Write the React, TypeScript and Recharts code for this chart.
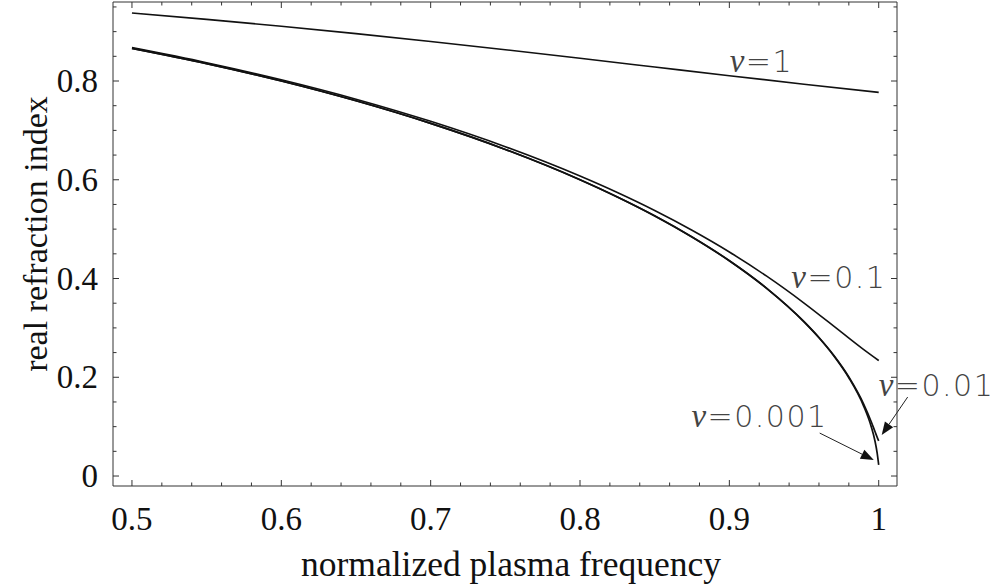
import { LineChart, Line, XAxis, YAxis, ReferenceLine, ReferenceDot } from "recharts";

// normalized plasma frequency samples
const freqWide = [0.5, 0.55, 0.6, 0.65, 0.7, 0.75, 0.8, 0.85, 0.9, 0.95, 1.0];
const freqMid = [0.5, 0.55, 0.6, 0.65, 0.7, 0.75, 0.8, 0.825, 0.85, 0.875, 0.9, 0.925, 0.95, 0.975, 0.99, 1.0];
const freqFine = [0.5, 0.55, 0.6, 0.65, 0.7, 0.75, 0.8, 0.825, 0.85, 0.875, 0.9, 0.925, 0.95, 0.96, 0.97, 0.98, 0.99, 0.995, 0.9975, 0.999, 1.0];

// real refraction index per collision frequency
const nu1 = [0.9378, 0.9249, 0.9109, 0.8959, 0.88, 0.8633, 0.846, 0.8284, 0.8108, 0.7935, 0.7769];
const nu01 = [0.8676, 0.8371, 0.8025, 0.7632, 0.7183, 0.6669, 0.6075, 0.5741, 0.5377, 0.4977, 0.4537, 0.4047, 0.3503, 0.2913, 0.256, 0.2339];
const nu001 = [0.866, 0.8352, 0.8, 0.7599, 0.7141, 0.6614, 0.6, 0.5651, 0.5269, 0.4841, 0.4361, 0.3802, 0.3127, 0.2806, 0.2441, 0.2007, 0.1454, 0.11, 0.0902, 0.0784, 0.0711];
const nu0001 = [0.866, 0.8352, 0.8, 0.7599, 0.7141, 0.6614, 0.6, 0.5651, 0.5268, 0.4841, 0.4359, 0.38, 0.3122, 0.28, 0.2431, 0.199, 0.1411, 0.1, 0.071, 0.046, 0.0224];

const xTicks = [0.5, 0.52, 0.54, 0.56, 0.58, 0.6, 0.62, 0.64, 0.66, 0.68, 0.7, 0.72, 0.74, 0.76, 0.78, 0.8, 0.82, 0.84, 0.86, 0.88, 0.9, 0.92, 0.94, 0.96, 0.98, 1.0];
const xMajor = [0.5, 0.6, 0.7, 0.8, 0.9, 1.0];
const yTicks = [0, 0.05, 0.1, 0.15, 0.2, 0.25, 0.3, 0.35, 0.4, 0.45, 0.5, 0.55, 0.6, 0.65, 0.7, 0.75, 0.8, 0.85, 0.9, 0.95];
const yMajor = [0, 0.2, 0.4, 0.6, 0.8];

// curve labels and arrows (data coordinates)
const curveLabels = [
  { text: "1", x: 0.9002, y: 0.8178 },
  { text: "0.1", x: 0.9415, y: 0.3806 },
  { text: "0.01", x: 1.0, y: 0.162 },
  { text: "0.001", x: 0.8746, y: 0.0992 },
];
const arrows = [
  { x1: 0.9605, y1: 0.087, x2: 0.9967, y2: 0.0324 },
  { x1: 1.0194, y1: 0.16, x2: 1.002, y2: 0.083 },
];

const pts = (xs: number[], ys: number[]) => xs.map((x, i) => ({ x, y: ys[i] }));

const isMajor = (v: number, majors: number[]) => majors.some((m) => Math.abs(m - v) < 1e-6);
const fmt = (v: number) => (Math.abs(v) < 1e-6 ? "0" : Math.abs(v - 1) < 1e-6 ? "1" : v.toFixed(1));

const serif = "'Liberation Serif', 'Times New Roman', serif";
const frame = "#333";
const serifText = { fontFamily: serif, fontSize: 33, fill: "#111" };

const BottomTick = ({ x, y, payload }: any) => {
  const major = isMajor(payload.value, xMajor);
  return (
    <g>
      <line x1={x} y1={y} x2={x} y2={y - (major ? 6 : 3.5)} stroke={frame} strokeWidth={1} />
      {major && (
        <text x={x} y={y + 44} textAnchor="middle" style={serifText}>
          {fmt(payload.value)}
        </text>
      )}
    </g>
  );
};

const TopTick = ({ x, y, payload }: any) => {
  const major = isMajor(payload.value, xMajor);
  return <line x1={x} y1={y} x2={x} y2={y + (major ? 6 : 3.5)} stroke={frame} strokeWidth={1} />;
};

const LeftTick = ({ x, y, payload }: any) => {
  const major = isMajor(payload.value, yMajor);
  return (
    <g>
      <line x1={x} y1={y} x2={x + (major ? 6 : 3.5)} y2={y} stroke={frame} strokeWidth={1} />
      {major && (
        <text x={x - 15} y={y + 11} textAnchor="end" style={serifText}>
          {fmt(payload.value)}
        </text>
      )}
    </g>
  );
};

const RightTick = ({ x, y, payload }: any) => {
  const major = isMajor(payload.value, yMajor);
  return <line x1={x} y1={y} x2={x - (major ? 6 : 3.5)} y2={y} stroke={frame} strokeWidth={1} />;
};

const ArrowShape = (p: any) => {
  const { x1, y1, x2, y2 } = p;
  const dx = x2 - x1;
  const dy = y2 - y1;
  const len = Math.sqrt(dx * dx + dy * dy);
  const ux = dx / len;
  const uy = dy / len;
  const hl = 13;
  const hw = 5;
  const bx = x2 - ux * hl;
  const by = y2 - uy * hl;
  return (
    <g>
      <line x1={x1} y1={y1} x2={bx} y2={by} stroke="#222" strokeWidth={1} />
      <polygon
        points={`${x2},${y2} ${bx - uy * hw},${by + ux * hw} ${bx + uy * hw},${by - ux * hw}`}
        fill="#111"
      />
    </g>
  );
};

const labelShape = (text: string) => (p: any) => (
  <text
    x={p.cx}
    y={p.cy}
    style={{ fontFamily: "'DejaVu Sans', sans-serif", fontWeight: 200, fontSize: 30, fill: "#444", letterSpacing: 1.5 }}
  >
    <tspan style={{ fontFamily: serif, fontStyle: "italic", fontWeight: 400, fontSize: 33 }}>ν</tspan>={text}
  </text>
);

export default function App() {
  const xDomain = [0.4873, 1.01225];
  const yDomain = [-0.0202, 0.96];
  return (
    <div style={{ position: "absolute", left: 0, top: 0, background: "#fff" }}>
      <LineChart width={1005} height={587} margin={{ top: 0, right: 0, bottom: 0, left: 0 }}>
        <XAxis
          xAxisId={0}
          dataKey="x"
          type="number"
          domain={xDomain}
          allowDataOverflow
          ticks={xTicks}
          interval={0}
          height={101}
          tickSize={0}
          tickMargin={0}
          tickLine={false}
          axisLine={{ stroke: frame, strokeWidth: 1 }}
          tick={BottomTick}
          label={({ viewBox }: any) => (
            <text
              x={viewBox.x + viewBox.width / 2 + 6}
              y={viewBox.y + 90}
              textAnchor="middle"
              style={{ fontFamily: serif, fontSize: 35.5, fill: "#111" }}
            >
              normalized plasma frequency
            </text>
          )}
        />
        <XAxis
          xAxisId="top"
          orientation="top"
          dataKey="x"
          type="number"
          domain={xDomain}
          allowDataOverflow
          ticks={xTicks}
          interval={0}
          height={2}
          tickSize={0}
          tickMargin={0}
          tickLine={false}
          axisLine={{ stroke: frame, strokeWidth: 1 }}
          tick={TopTick}
        />
        <YAxis
          yAxisId={0}
          type="number"
          domain={yDomain}
          allowDataOverflow
          ticks={yTicks}
          interval={0}
          width={113}
          tickSize={0}
          tickMargin={0}
          tickLine={false}
          axisLine={{ stroke: frame, strokeWidth: 1 }}
          tick={LeftTick}
          label={() => (
            <text
              x={47}
              y={234}
              transform="rotate(-90 47 234)"
              textAnchor="middle"
              style={{ fontFamily: serif, fontSize: 34, fill: "#111" }}
            >
              real refraction index
            </text>
          )}
        />
        <YAxis
          yAxisId="right"
          orientation="right"
          type="number"
          domain={yDomain}
          allowDataOverflow
          ticks={yTicks}
          interval={0}
          width={108}
          tickSize={0}
          tickMargin={0}
          tickLine={false}
          axisLine={{ stroke: frame, strokeWidth: 1 }}
          tick={RightTick}
        />
        <Line data={pts(freqWide, nu1)} dataKey="y" type="monotone" stroke="#111" strokeWidth={1.6} dot={false} isAnimationActive={false} />
        <Line data={pts(freqMid, nu01)} dataKey="y" type="monotone" stroke="#111" strokeWidth={1.6} dot={false} isAnimationActive={false} />
        <Line data={pts(freqFine, nu001)} dataKey="y" type="monotone" stroke="#111" strokeWidth={1.7} dot={false} isAnimationActive={false} />
        <Line data={pts(freqFine, nu0001)} dataKey="y" type="monotone" stroke="#111" strokeWidth={1.7} dot={false} isAnimationActive={false} />
        {arrows.map((a, i) => (
          <ReferenceLine
            key={`arrow-${i}`}
            segment={[{ x: a.x1, y: a.y1 }, { x: a.x2, y: a.y2 }]}
            ifOverflow="visible"
            shape={ArrowShape}
          />
        ))}
        {curveLabels.map((l) => (
          <ReferenceDot key={l.text} x={l.x} y={l.y} r={0} ifOverflow="visible" shape={labelShape(l.text)} />
        ))}
      </LineChart>
    </div>
  );
}
